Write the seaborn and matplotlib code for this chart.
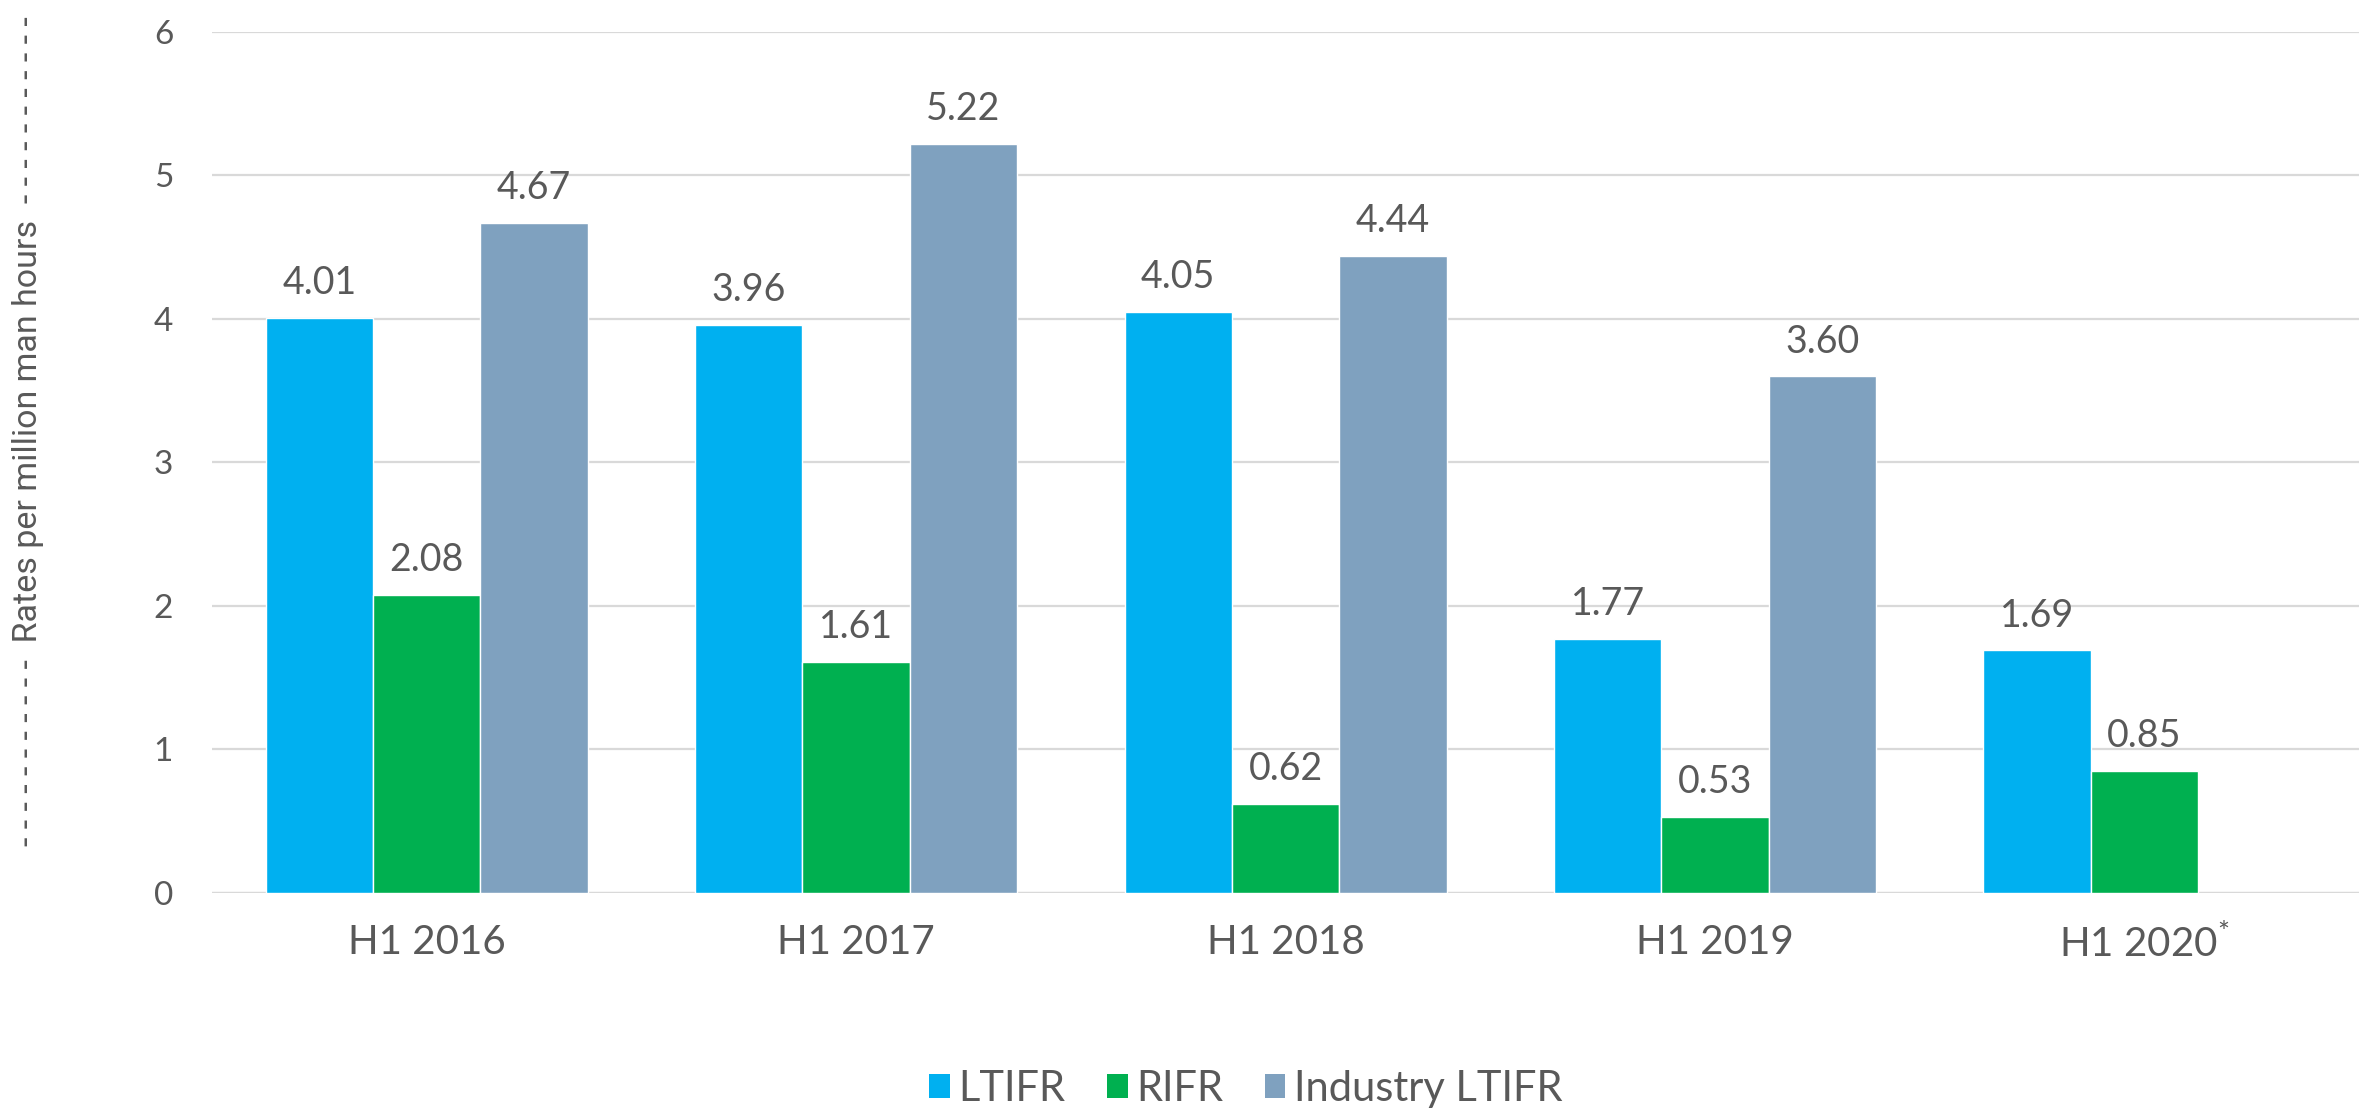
import matplotlib
matplotlib.use("Agg")
import matplotlib.pyplot as plt
import numpy as np
import pandas as pd
import seaborn as sns
from matplotlib.patches import Patch

# data
periods = ["H1 2016", "H1 2017", "H1 2018", "H1 2019", "H1 2020$\\mathregular{^{*}}$"]
series_names = ["LTIFR", "RIFR", "Industry LTIFR"]
ltifr = [4.01, 3.96, 4.05, 1.77, 1.69]
rifr = [2.08, 1.61, 0.62, 0.53, 0.85]
industry_ltifr = [4.67, 5.22, 4.44, 3.60, np.nan]

colors = ["#00B0F0", "#00B050", "#7FA1BF"]
TEXT = "#595959"
GRID = "#D9D9D9"

df = pd.DataFrame({
    "period": periods * 3,
    "series": [s for s in series_names for _ in periods],
    "value": ltifr + rifr + industry_ltifr,
})

sns.set_theme(style="white")
plt.rcParams["font.family"] = ["Lato", "DejaVu Sans"]
plt.rcParams["mathtext.fontset"] = "custom"
plt.rcParams["mathtext.rm"] = "Lato"

fig = plt.figure(figsize=(23.59, 11.10), dpi=100)
ax = fig.add_axes([0.0899, 0.1955, 0.9101, 0.7757])

sns.barplot(
    data=df, x="period", y="value", hue="series", order=periods,
    hue_order=series_names, palette=colors, width=0.75, saturation=1,
    errorbar=None, legend=False, ax=ax,
)

for container in ax.containers:
    ax.bar_label(container, fmt="%.2f", padding=12, fontsize=27, color=TEXT)

ax.set_xlim(-0.5, 4.5)
ax.set_ylim(0, 6)
ax.set_yticks(range(0, 7))
ax.yaxis.grid(True, color=GRID, linewidth=1.6)
ax.set_axisbelow(True)
for side in ["top", "right", "left", "bottom"]:
    ax.spines[side].set_visible(False)
ax.axhline(0, color=GRID, linewidth=1.6, zorder=0)
ax.tick_params(axis="y", length=0, pad=28, labelsize=24, labelcolor=TEXT)
ax.tick_params(axis="x", length=0, pad=22, labelsize=29, labelcolor=TEXT)
ax.set_xlabel("")
ax.set_ylabel("")

# y label with dashed leaders either side, as in the original
dashes = " ".join(["-"] * 11)
fig.text(0.0119, 0.612, f"{dashes}  Rates per million man hours  {dashes}",
         rotation=90, ha="center", va="center", fontsize=24.5, color=TEXT,
         family=["Liberation Sans Narrow", "Roboto", "DejaVu Sans"])

handles = [Patch(facecolor=c, edgecolor="none") for c in colors]
fig.legend(handles, series_names, loc="center", bbox_to_anchor=(0.528, 0.019),
           ncol=3, frameon=False, fontsize=30, labelcolor=TEXT,
           handlelength=0.5, handleheight=0.5, handletextpad=0.2,
           columnspacing=1.0)

fig.savefig("out.png", dpi=100)
